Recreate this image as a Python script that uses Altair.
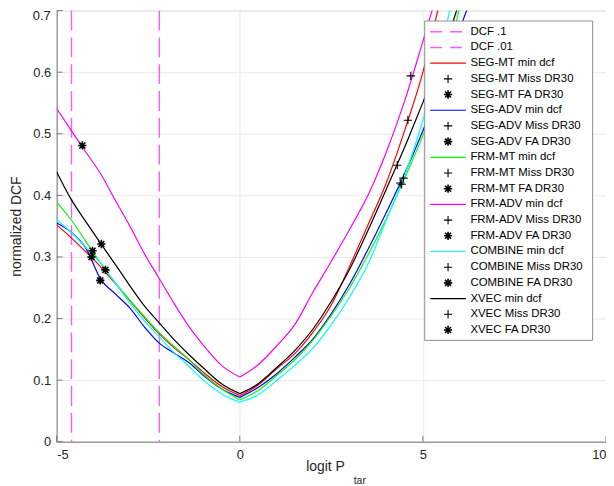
import altair as alt
import pandas as pd

# ---------------- data ----------------
series = ["SEG-MT", "SEG-ADV", "FRM-MT", "FRM-ADV", "COMBINE", "XVEC"]
colors = ["#ff0000", "#0000ff", "#00ff00", "#ff00ff", "#00ffff", "#000000"]

x_base = [-5, -4.6, -4.2, -3.8, -3.4, -3.0, -2.6, -2.2, -1.8, -1.4, -1.0, -0.5,
          0, 0.5, 1.0, 1.5, 2.0, 2.5, 3.0, 3.5, 4.0, 4.5, 5.0, 5.5, 6.0, 6.5]

seg_mt = [0.352, 0.331, 0.308, 0.284, 0.257, 0.229, 0.201, 0.175, 0.153, 0.134, 0.113, 0.090,
          0.075, 0.092, 0.118, 0.143, 0.178, 0.222, 0.285, 0.352, 0.420, 0.505, 0.600, 0.725]
seg_adv = [0.355, 0.340, 0.314, 0.264, 0.240, 0.217, 0.186, 0.160, 0.144, 0.129, 0.108, 0.086,
           0.072, 0.088, 0.110, 0.137, 0.167, 0.208, 0.256, 0.312, 0.372, 0.435, 0.505, 0.580, 0.668, 0.750]
frm_mt = [0.389, 0.360, 0.325, 0.290, 0.258, 0.230, 0.203, 0.177, 0.155, 0.134, 0.110, 0.086,
          0.068, 0.083, 0.107, 0.133, 0.165, 0.205, 0.250, 0.303, 0.362, 0.428, 0.497, 0.580, 0.705]
frm_adv = [0.541, 0.505, 0.470, 0.435, 0.392, 0.350, 0.305, 0.265, 0.225, 0.188, 0.157, 0.124,
           0.105, 0.125, 0.155, 0.190, 0.243, 0.293, 0.345, 0.400, 0.470, 0.553, 0.650, 0.750]
combine = [0.360, 0.340, 0.315, 0.290, 0.258, 0.225, 0.196, 0.170, 0.145, 0.123, 0.100, 0.078,
           0.064, 0.076, 0.099, 0.124, 0.152, 0.190, 0.235, 0.288, 0.360, 0.432, 0.522, 0.640, 0.770]
xvec = [0.438, 0.393, 0.357, 0.322, 0.288, 0.253, 0.220, 0.193, 0.166, 0.142, 0.120, 0.094,
        0.078, 0.094, 0.120, 0.148, 0.183, 0.228, 0.280, 0.343, 0.410, 0.478, 0.551, 0.625, 0.715]
curves = [seg_mt, seg_adv, frm_mt, frm_adv, combine, xvec]

# operating points (Miss DR30 = '+', FA DR30 = '*')
miss_x = [4.59, 4.38, 4.47, 4.67, 4.42, 4.30]
miss_y = [0.522, 0.420, 0.428, 0.594, 0.418, 0.449]
fa_x = [-4.05, -3.81, -4.02, -4.30, -3.67, -3.78]
fa_y = [0.300, 0.262, 0.310, 0.481, 0.279, 0.321]

dcf_labels = ["DCF .1", "DCF .01"]
dcf_x = [-2.197, -4.595]

x_ticks = [-5, 0, 5, 10]
y_ticks = [0, 0.1, 0.2, 0.3, 0.4, 0.5, 0.6, 0.7]

# ---------------- layout ----------------
W, H = 553, 434
X0, X1, Y0, Y1 = -5, 10, 0, 0.7
PAD_L, PAD_T = 49, 1
FONT = "Liberation Sans"
AXIS_GRAY = "#7a7a7a"
DCF_COL = "#ff5cff"

def px2x(px):  # page pixel -> data x
    return X0 + (px - (8 + PAD_L)) * (X1 - X0) / W

def py2y(py):  # page pixel -> data y
    return Y1 - (py - (8 + PAD_T)) * (Y1 - Y0) / H

xs = alt.Scale(domain=[X0, X1], nice=False, zero=False)
ys = alt.Scale(domain=[Y0, Y1], nice=False, zero=False)

PLUS = "M-1,0L1,0M0,-1L0,1"
STAR = "M-1,0L1,0M0,-1L0,1M-0.72,-0.72L0.72,0.72M-0.72,0.72L0.72,-0.72"

layers = []

# inward ticks + axes
layers.append(alt.Chart(pd.DataFrame({"v": y_ticks})).mark_rule(color=AXIS_GRAY, strokeWidth=1).encode(
    y=alt.Y("v:Q", scale=ys, axis=alt.Axis(values=y_ticks,
                                           labelExpr="datum.value == 0.7 ? '' : datum.value + ''",
                                           ticks=False, domainColor=AXIS_GRAY, gridColor="#e9e9e9",
                                           labelFontSize=13, labelFont=FONT, labelColor="#262626",
                                           labelPadding=6, title="normalized DCF", titleFont=FONT,
                                           titleFontSize=14, titleFontWeight="normal", titleColor="#262626",
                                           titleX=-40, titleY=H / 2, titleBaseline="middle")),
    x=alt.value(0), x2=alt.value(6)))
layers.append(alt.Chart(pd.DataFrame({"v": x_ticks})).mark_rule(color=AXIS_GRAY, strokeWidth=1).encode(
    x=alt.X("v:Q", scale=xs, axis=alt.Axis(values=x_ticks, labelExpr="datum.value + ''", ticks=False,
                                           domainColor=AXIS_GRAY, gridColor="#e9e9e9", labelFontSize=13,
                                           labelFont=FONT, labelColor="#262626", labelPadding=7,
                                           title=None)),
    y=alt.value(H), y2=alt.value(H - 6)))
# top tick label drawn by hand so that it stays inside the page
layers.append(alt.Chart(pd.DataFrame({"t": ["0.7"]})).mark_text(
    align="right", baseline="middle", fontSize=13, font=FONT, color="#262626").encode(
    x=alt.value(-6), y=alt.value(5), text="t:N"))

# DCF vertical dashed lines
layers.append(alt.Chart(pd.DataFrame({"x": dcf_x, "lab": dcf_labels})).mark_rule(
    color=DCF_COL, strokeWidth=1.4, strokeDash=[20, 7]).encode(x=alt.X("x:Q", scale=xs)))

# curves: left and right branch drawn separately so the minimum stays a sharp V
for name, col, y_vals in zip(series, colors, curves):
    df = pd.DataFrame({"x": x_base[:len(y_vals)], "y": y_vals})
    for part in (df[df.x <= 0], df[df.x >= 0]):
        layers.append(alt.Chart(part).mark_line(color=col, strokeWidth=1.2, clip=True,
                                                interpolate="monotone").encode(
            x=alt.X("x:Q", scale=xs), y=alt.Y("y:Q", scale=ys), order="x:Q"))

# operating points
pts_miss = pd.DataFrame({"x": miss_x, "y": miss_y, "s": series})
pts_fa = pd.DataFrame({"x": fa_x, "y": fa_y, "s": series})
layers.append(alt.Chart(pts_miss).mark_point(shape=PLUS, filled=False, size=70, color="black",
                                             strokeWidth=1.1, opacity=1).encode(
    x=alt.X("x:Q", scale=xs), y=alt.Y("y:Q", scale=ys)))
layers.append(alt.Chart(pts_fa).mark_point(shape=STAR, filled=False, size=70, color="black",
                                           strokeWidth=1.6, opacity=1).encode(
    x=alt.X("x:Q", scale=xs), y=alt.Y("y:Q", scale=ys)))

# ---------------- manual legend ----------------
leg_labels, leg_kind, leg_col = [], [], []
for lab in dcf_labels:
    leg_labels.append(lab); leg_kind.append("dash"); leg_col.append(DCF_COL)
for name, col in zip(series, colors):
    leg_labels += [name + " min dcf", name + " Miss DR30", name + " FA DR30"]
    leg_kind += ["line", "plus", "star"]
    leg_col += [col, "#000000", "#000000"]

ROW0, ROWH = 30.3, 15.8
leg = pd.DataFrame({
    "label": leg_labels, "kind": leg_kind, "col": leg_col,
    "y": [py2y(ROW0 + ROWH * i) for i in range(len(leg_labels))],
    "xa": px2x(433), "xb": px2x(469), "xm": px2x(451), "xt": px2x(473.5)})

box = pd.DataFrame({"x": [px2x(427.5)], "x2": [px2x(596.5)], "y": [py2y(19.5)], "y2": [py2y(341)]})
layers.append(alt.Chart(box).mark_rect(fill="white", stroke="#8f8f8f", strokeWidth=1).encode(
    x=alt.X("x:Q", scale=xs), x2="x2:Q", y=alt.Y("y:Q", scale=ys), y2="y2:Q"))

layers.append(alt.Chart(leg).transform_filter("datum.kind == 'line'").mark_rule(strokeWidth=1.2).encode(
    x=alt.X("xa:Q", scale=xs), x2="xb:Q", y=alt.Y("y:Q", scale=ys), color=alt.Color("col:N", scale=None)))
layers.append(alt.Chart(leg).transform_filter("datum.kind == 'dash'").mark_rule(
    strokeWidth=1.4, strokeDash=[12, 8]).encode(
    x=alt.X("xa:Q", scale=xs), x2="xb:Q", y=alt.Y("y:Q", scale=ys), color=alt.Color("col:N", scale=None)))
layers.append(alt.Chart(leg).transform_filter("datum.kind == 'plus'").mark_point(
    shape=PLUS, filled=False, size=70, color="black", strokeWidth=1.1, opacity=1).encode(
    x=alt.X("xm:Q", scale=xs), y=alt.Y("y:Q", scale=ys)))
layers.append(alt.Chart(leg).transform_filter("datum.kind == 'star'").mark_point(
    shape=STAR, filled=False, size=70, color="black", strokeWidth=1.6, opacity=1).encode(
    x=alt.X("xm:Q", scale=xs), y=alt.Y("y:Q", scale=ys)))
layers.append(alt.Chart(leg).mark_text(align="left", baseline="middle", fontSize=11.5, font=FONT,
                                       color="black").encode(
    x=alt.X("xt:Q", scale=xs), y=alt.Y("y:Q", scale=ys), text="label:N"))

# x-axis title with subscript
layers.append(alt.Chart(pd.DataFrame({"t": ["logit P"]})).mark_text(
    align="right", baseline="middle", fontSize=14, font=FONT, color="#262626").encode(
    x=alt.value(290), y=alt.value(459), text="t:N"))
layers.append(alt.Chart(pd.DataFrame({"t": ["tar"]})).mark_text(
    align="left", baseline="middle", fontSize=10.5, font=FONT, color="#262626").encode(
    x=alt.value(299), y=alt.value(474), text="t:N"))

chart = alt.layer(*layers).properties(
    width=W, height=H,
    autosize=alt.AutoSizeParams(type="none"),
    padding={"left": PAD_L, "top": PAD_T, "right": 0, "bottom": 45},
).configure_view(stroke=None).configure(background="white")

chart.save("out.html", embed_options={"renderer": "svg", "actions": False})
